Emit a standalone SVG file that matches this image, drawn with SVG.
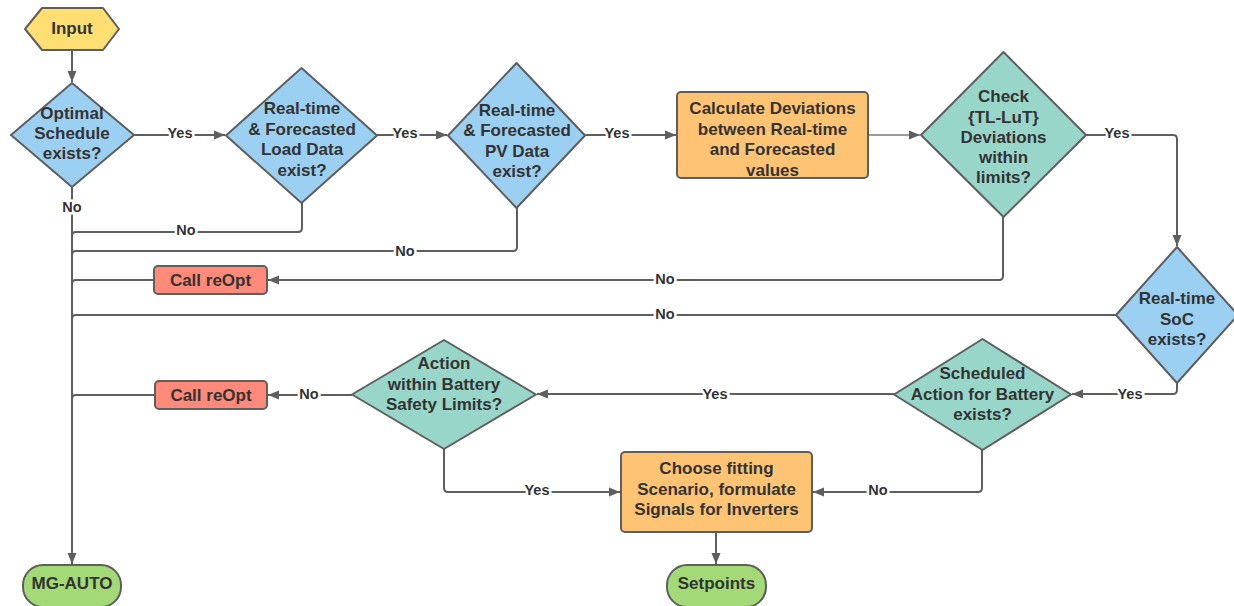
<svg xmlns="http://www.w3.org/2000/svg" width="1234" height="606" viewBox="0 0 1234 606">
<style>
.shape{stroke:#5e5e5e;stroke-width:2;stroke-linejoin:round}
.blue{fill:#9cd0f2}
.teal{fill:#99d6ca}
.orange{fill:#ffc374}
.red{fill:#ff8a7a}
.green{fill:#a3d977}
.yellow{fill:#ffdf71}
.t{font-family:"Liberation Sans",Arial,sans-serif;font-weight:bold;font-size:17px;fill:#333;text-anchor:middle}
.lbl{font-family:"Liberation Sans",Arial,sans-serif;font-weight:bold;font-size:14.5px;fill:#333;text-anchor:middle;paint-order:stroke;stroke:#fff;stroke-width:5px}
.c{fill:none;stroke:#5e5e5e;stroke-width:2}
.thin{fill:none;stroke:#7a7a7a;stroke-width:1.3}
</style>
<defs>
<marker id="ah" markerUnits="userSpaceOnUse" markerWidth="12" markerHeight="10" refX="11" refY="5" orient="auto">
<path d="M0,0.5 L11,5 L0,9.5 z" fill="#5e5e5e"/>
</marker>
</defs>
<g id="connectors">
<path class="c" d="M72,51 V82" marker-end="url(#ah)"/>
<path class="c" d="M134,135 H225" marker-end="url(#ah)"/>
<path class="c" d="M377,135 H447" marker-end="url(#ah)"/>
<path class="c" d="M585,135 H676" marker-end="url(#ah)"/>
<path class="thin" d="M868,135 H920" marker-end="url(#ah)"/>
<path class="c" d="M1086,135 H1173 Q1177,135 1177,139 V246" marker-end="url(#ah)"/>
<path class="c" d="M1003,217 V276 Q1003,280 999,280 H268" marker-end="url(#ah)"/>
<path class="c" d="M154,280 H76 Q72,280 72,284"/>
<path class="c" d="M72,187 V564" marker-end="url(#ah)"/>
<path class="c" d="M302,203 V228 Q302,232 298,232 H76 Q72,232 72,236"/>
<path class="c" d="M517,208 V247 Q517,251 513,251 H76 Q72,251 72,255"/>
<path class="c" d="M1116,315 H76 Q72,315 72,319"/>
<path class="c" d="M155,395 H76 Q72,395 72,399"/>
<path class="c" d="M352,395 H268" marker-end="url(#ah)"/>
<path class="c" d="M1177,383 V390 Q1177,394 1173,394 H1072" marker-end="url(#ah)"/>
<path class="c" d="M894,394 H537" marker-end="url(#ah)"/>
<path class="c" d="M982,450 V488 Q982,492 978,492 H813" marker-end="url(#ah)"/>
<path class="c" d="M444,449 V488 Q444,492 448,492 H620" marker-end="url(#ah)"/>
<path class="c" d="M716,532 V564" marker-end="url(#ah)"/>
<text class="lbl" x="180" y="138">Yes</text>
<text class="lbl" x="405" y="138">Yes</text>
<text class="lbl" x="617" y="138">Yes</text>
<text class="lbl" x="1117" y="138">Yes</text>
<text class="lbl" x="1130" y="399">Yes</text>
<text class="lbl" x="715" y="399">Yes</text>
<text class="lbl" x="537" y="495">Yes</text>
<text class="lbl" x="72" y="212">No</text>
<text class="lbl" x="186" y="235">No</text>
<text class="lbl" x="405" y="256">No</text>
<text class="lbl" x="665" y="284">No</text>
<text class="lbl" x="665" y="319">No</text>
<text class="lbl" x="309" y="399">No</text>
<text class="lbl" x="878" y="495">No</text>
</g>
<g id="input">
<polygon class="shape yellow" points="25,29 42,8 103,8 119,29 103,50 42,50"/>
<text class="t" x="72" y="34">Input</text>
</g>
<g id="optimal-schedule">
<polygon class="shape blue" points="11,135 72,83 134,135 72,187"/>
<text class="t" x="72" y="119">Optimal</text>
<text class="t" x="72" y="139">Schedule</text>
<text class="t" x="72" y="159">exists?</text>
</g>
<g id="load-data">
<polygon class="shape blue" points="226,135.5 301.5,68 377,135.5 301.5,203"/>
<text class="t" x="302" y="114">Real-time</text>
<text class="t" x="302" y="134.5">&amp; Forecasted</text>
<text class="t" x="302" y="155">Load Data</text>
<text class="t" x="302" y="175.5">exist?</text>
</g>
<g id="pv-data">
<polygon class="shape blue" points="448,135.5 516.5,63 585,135.5 516.5,208"/>
<text class="t" x="517" y="115.5">Real-time</text>
<text class="t" x="517" y="136">&amp; Forecasted</text>
<text class="t" x="517" y="156.5">PV Data</text>
<text class="t" x="517" y="177">exist?</text>
</g>
<g id="calc-deviations">
<rect class="shape orange" x="677" y="92" width="191" height="86" rx="4"/>
<text class="t" x="772.5" y="114">Calculate Deviations</text>
<text class="t" x="772.5" y="134.5">between Real-time</text>
<text class="t" x="772.5" y="155">and Forecasted</text>
<text class="t" x="772.5" y="175.5">values</text>
</g>
<g id="check-deviations">
<polygon class="shape teal" points="921,135 1003.5,52 1086,135 1003.5,217"/>
<text class="t" x="1003.5" y="102">Check</text>
<text class="t" x="1003.5" y="122.5">{TL-LuT}</text>
<text class="t" x="1003.5" y="143">Deviations</text>
<text class="t" x="1003.5" y="163">within</text>
<text class="t" x="1003.5" y="183">limits?</text>
</g>
<g id="call-reopt-1">
<rect class="shape red" x="154" y="266" width="113" height="28" rx="4"/>
<text class="t" x="210.5" y="286">Call reOpt</text>
</g>
<g id="soc-exists">
<polygon class="shape blue" points="1116,315 1177,247 1238,315 1177,383"/>
<text class="t" x="1177" y="304">Real-time</text>
<text class="t" x="1177" y="324.5">SoC</text>
<text class="t" x="1177" y="345">exists?</text>
</g>
<g id="scheduled-action">
<polygon class="shape teal" points="894,394.5 982.5,339 1071,394.5 982.5,450"/>
<text class="t" x="982.5" y="379">Scheduled</text>
<text class="t" x="982.5" y="399.5">Action for Battery</text>
<text class="t" x="982.5" y="420">exists?</text>
</g>
<g id="safety-limits">
<polygon class="shape teal" points="352,394.5 444,340 536,394.5 444,449"/>
<text class="t" x="444" y="369">Action</text>
<text class="t" x="444" y="389.5">within Battery</text>
<text class="t" x="444" y="410">Safety Limits?</text>
</g>
<g id="call-reopt-2">
<rect class="shape red" x="155" y="381" width="112" height="28" rx="4"/>
<text class="t" x="211" y="401">Call reOpt</text>
</g>
<g id="choose-scenario">
<rect class="shape orange" x="621" y="452" width="191" height="80" rx="4"/>
<text class="t" x="716.5" y="474">Choose fitting</text>
<text class="t" x="716.5" y="494.5">Scenario, formulate</text>
<text class="t" x="716.5" y="515">Signals for Inverters</text>
</g>
<g id="mg-auto">
<rect class="shape green" x="23" y="565" width="98" height="42" rx="20"/>
<text class="t" x="72" y="589">MG-AUTO</text>
</g>
<g id="setpoints">
<rect class="shape green" x="667" y="565" width="99" height="42" rx="20"/>
<text class="t" x="716.5" y="589">Setpoints</text>
</g>
</svg>
